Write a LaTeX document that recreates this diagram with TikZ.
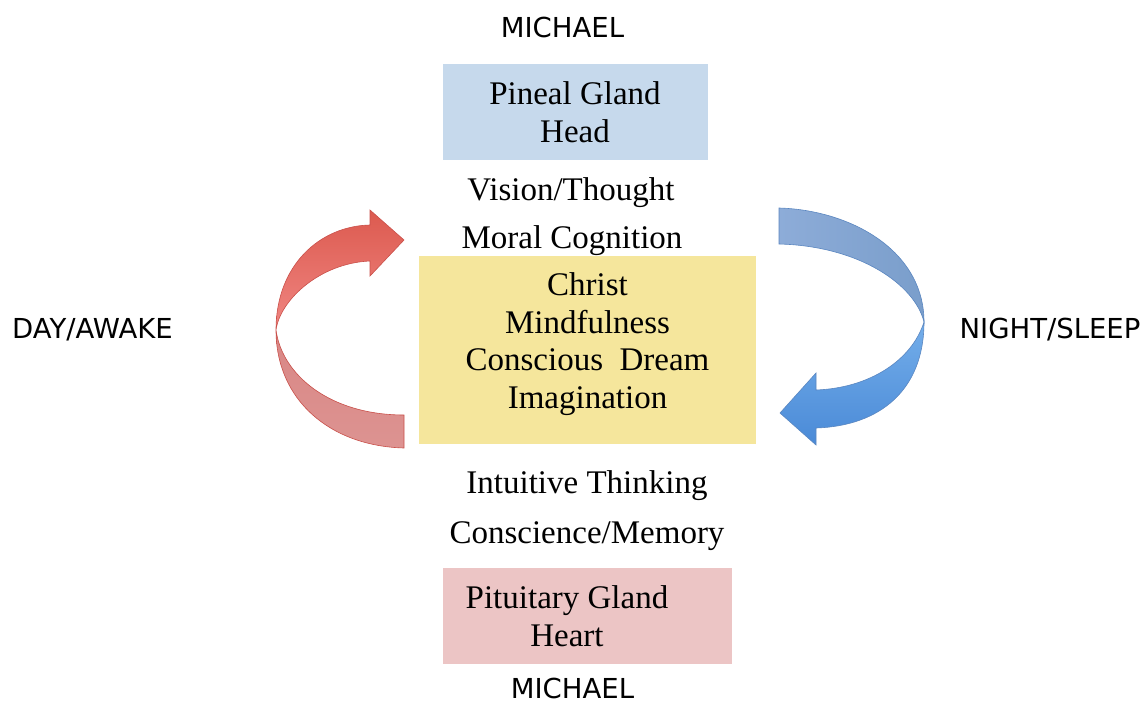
\documentclass[tikz,border=0pt]{standalone}
\usepackage{fontspec}
\setmainfont{Liberation Serif}
\newfontfamily\handfont{DejaVu Sans}
\usetikzlibrary{positioning}

\definecolor{headblue}{HTML}{C6D9EC}
\definecolor{dreamyellow}{HTML}{F5E69C}
\definecolor{heartpink}{HTML}{ECC5C5}
\definecolor{dayred}{HTML}{DC5A4F}
\definecolor{daylight}{HTML}{F08682}
\definecolor{daydull}{HTML}{D98785}
\definecolor{dayedge}{HTML}{C9504A}
\definecolor{nightgrey}{HTML}{8DACD8}
\definecolor{nightdull}{HTML}{7A9ECB}
\definecolor{nightsky}{HTML}{74AEEA}
\definecolor{nightdeep}{HTML}{4A8AD7}
\definecolor{nightedge}{HTML}{5A86C0}

\begin{document}
\begin{tikzpicture}[
            x=1pt, y=-1pt,
            gland/.style={rectangle, inner sep=0pt, draw=none},
            words/.style={font=\fontsize{33}{37.5}\selectfont, align=center, inner sep=0pt, anchor=base},
            hand/.style={font=\handfont\fontsize{27.5}{32}\selectfont, inner sep=0pt, anchor=base},
            dayarrow/.style={draw=dayedge, line width=0.6pt},
            nightarrow/.style={draw=nightedge, line width=0.6pt}
        ]
            \useasboundingbox (0,0) rectangle (1146,704);

            % Boxes
            \node[gland, fill=headblue, minimum width=265pt, minimum height=96pt] (pineal) at (575.5,112) {};
            \node[gland, fill=dreamyellow, minimum width=337pt, minimum height=188pt] (christ) at (587.5,350) {};
            \node[gland, fill=heartpink, minimum width=289pt, minimum height=96pt] (pituitary) at (587.5,616) {};

            % Texts (base = last line)
            \node[words] (pinealtext) at (575,142) {Pineal Gland\\Head};
            \node[words] (vision) at (571,200) {Vision/Thought};
            \node[words] (moral) at (572,248) {Moral Cognition};
            \node[words] (christtext) at (587.5,408) {Christ\\Mindfulness\\Conscious~ Dream\\Imagination};
            \node[words] (intuitive) at (587,493) {Intuitive Thinking};
            \node[words] (conscience) at (587,543) {Conscience/Memory};
            \node[words] (pituitarytext) at (567,646) {Pituitary Gland\\Heart};

            \node[hand] (michaeltop) at (562.5,37) {MICHAEL};
            \node[hand] (michaelbottom) at (572.5,698) {MICHAEL};
            \node[hand] (day) at (92.5,338) {DAY/AWAKE};
            \node[hand] (night) at (1050,338) {NIGHT/SLEEP};

            % Day arrow (red)
            \draw[dayarrow, top color=dayred, bottom color=daylight]
                (370,225) -- (370,210) -- (404,240) -- (370,276) -- (370,261)
                .. controls (320,263) and (280,300) .. (276,330)
                .. controls (276,265) and (320,226) .. (370,225) -- cycle;
            \draw[dayarrow, top color=daydull, bottom color=daydull!90!white]
                (276,330) .. controls (276,400) and (330,446) .. (404,448)
                -- (404,415) .. controls (330,415) and (282,375) .. (276,330) -- cycle;

            % Night arrow (blue)
            \draw[nightarrow, left color=nightgrey, right color=nightdull]
                (779,208) .. controls (850,210) and (924,250) .. (924,322)
                .. controls (915,285) and (860,246) .. (779,244) -- cycle;
            \draw[nightarrow, top color=nightsky, bottom color=nightdeep]
                (924,322) .. controls (924,390) and (880,426) .. (816,428)
                -- (816,445) -- (780,413) -- (816,373) -- (816,390)
                .. controls (870,388) and (912,360) .. (924,322) -- cycle;
        \end{tikzpicture}
\end{document}
